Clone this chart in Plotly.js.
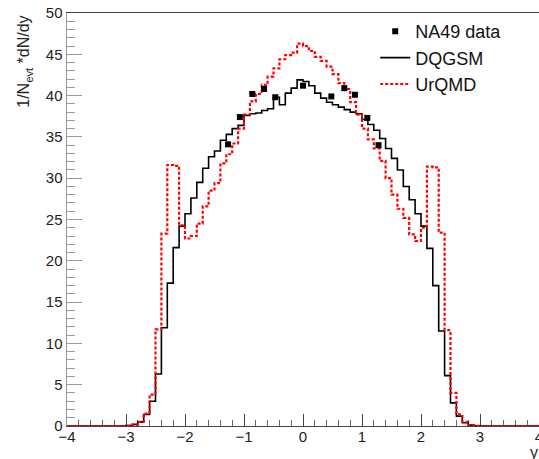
<!DOCTYPE html>
<html>
<head>
<meta charset="utf-8">
<script src="https://cdn.plot.ly/plotly-3.0.1.min.js"></script>
<style>html,body{margin:0;padding:0;background:#fff;}#chart{width:539px;height:459px;}</style>
</head>
<body>
<div id="chart"></div>
<script>
// Histogram binning (rapidity y from -4 to 4, bin width 0.1)
const binLow = -4;
const binWidth = 0.1;

// DQGSM histogram contents (80 bins, -4 .. 4)
const dqgsm = [
  0,0,0,0,0,0,0,0,0,0,
  0.05,0.2,0.5,1.4,3.0,6.3,11.9,17.3,21.6,24.2,
  25.7,27.6,29.5,31.2,32.6,33.3,34.6,35.3,36.0,36.4,
  37.6,37.8,37.9,38.2,38.4,39.8,38.9,40.3,40.9,41.9,
  41.7,41.2,40.3,39.7,39.2,38.9,38.6,38.3,38.0,37.8,
  37.1,36.5,35.8,34.8,33.6,32.4,31.0,29.0,27.4,25.7,
  24.2,21.5,17.0,11.5,6.1,2.8,1.2,0.4,0.1,0.03,
  0,0,0,0,0,0,0,0,0,0
];

// UrQMD histogram contents (80 bins, -4 .. 4)
const urqmd = [
  0,0,0,0,0,0,0,0,0,0,
  0.03,0.1,0.5,1.5,3.8,11.7,23.3,31.6,31.5,24.3,
  22.7,23.0,24.5,26.6,28.5,29.4,31.8,32.9,34.2,36.0,
  37.7,39.3,40.2,41.3,42.3,43.3,44.4,44.9,45.2,46.3,
  46.0,45.4,44.7,44.2,43.5,42.6,41.5,40.8,39.2,37.7,
  36.0,34.7,33.6,32.1,30.0,28.0,26.3,25.2,23.2,22.4,
  24.0,31.4,31.3,23.4,11.6,4.0,1.4,0.5,0.1,0.03,
  0,0,0,0,0,0,0,0,0,0
];

// NA49 data points
const na49X = [-1.27, -1.07, -0.86, -0.66, -0.47, 0.0, 0.48, 0.70, 0.88, 1.09, 1.28];
const na49Y = [34.1, 37.4, 40.2, 40.8, 39.8, 41.2, 39.9, 40.9, 40.1, 37.3, 34.0];

// Axis ticks
const xTickVals = [-4, -3, -2, -1, 0, 1, 2, 3, 4];
const yTickVals = [0, 5, 10, 15, 20, 25, 30, 35, 40, 45, 50];

function stepXY(vals) {
  const xs = [], ys = [];
  for (let i = 0; i < vals.length; i++) {
    xs.push(binLow + i * binWidth);
    ys.push(vals[i]);
  }
  xs.push(binLow + vals.length * binWidth);
  ys.push(vals[vals.length - 1]);
  return {xs, ys};
}

const d = stepXY(dqgsm);
const u = stepXY(urqmd);

const fontFam = 'Liberation Sans, Arial, Helvetica, sans-serif';

const traces = [
  {
    x: d.xs, y: d.ys, type: 'scatter', mode: 'lines', name: 'DQGSM',
    line: {shape: 'hv', color: '#000000', width: 1.6},
    legendrank: 2
  },
  {
    x: u.xs, y: u.ys, type: 'scatter', mode: 'lines', name: 'UrQMD',
    line: {shape: 'hv', color: '#ff0000', width: 2.2, dash: '3px,2px'},
    legendrank: 3
  },
  {
    x: na49X, y: na49Y, type: 'scatter', mode: 'markers', name: 'NA49 data',
    marker: {symbol: 'square', size: 6, color: '#000000'},
    legendrank: 1
  }
];

const layout = {
  width: 539, height: 459,
  margin: {l: 67, r: 0, t: 13, b: 33},
  paper_bgcolor: '#ffffff', plot_bgcolor: '#ffffff',
  font: {family: fontFam, size: 15, color: '#222'},
  showlegend: true,
  legend: {
    x: 0.653, y: 1.0, xanchor: 'left', yanchor: 'top',
    bgcolor: 'rgba(0,0,0,0)', borderwidth: 0,
    font: {family: fontFam, size: 18, color: '#111'}
  },
  xaxis: {
    range: [-4, 4], tickvals: xTickVals, showgrid: false, zeroline: false,
    showline: true, linecolor: '#444', linewidth: 1, mirror: true,
    ticks: 'inside', ticklen: 12, tickcolor: '#444', tickwidth: 1,
    minor: {dtick: 0.2, ticks: 'inside', ticklen: 6, tickcolor: '#666', showgrid: false},
    tickfont: {family: fontFam, size: 15, color: '#222'},
    ticklabeloverflow: 'allow',
    ticklabelstandoff: -3,
    layer: 'below traces'
  },
  yaxis: {
    range: [0, 50], tickvals: yTickVals, showgrid: false, zeroline: false,
    showline: true, linecolor: '#999', linewidth: 1.5, mirror: true,
    ticks: 'inside', ticklen: 15, tickcolor: '#999', tickwidth: 1,
    minor: {dtick: 1, ticks: 'inside', ticklen: 8, tickcolor: '#999', showgrid: false},
    tickfont: {family: fontFam, size: 15, color: '#222'},
    layer: 'below traces'
  },
  annotations: [
    {
      text: '1/N<sub>evt</sub> *dN/dy', xref: 'paper', yref: 'paper',
      x: -0.089, y: 0.882, xanchor: 'center', yanchor: 'middle',
      textangle: -90, showarrow: false,
      font: {family: fontFam, size: 16, color: '#222'}
    },
    {
      text: 'y', xref: 'paper', yref: 'paper',
      x: 0.989, y: -0.064, xanchor: 'center', yanchor: 'middle',
      showarrow: false,
      font: {family: fontFam, size: 16, color: '#222'}
    }
  ]
};

Plotly.newPlot('chart', traces, layout, {displayModeBar: false, staticPlot: true});
</script>
</body>
</html>
